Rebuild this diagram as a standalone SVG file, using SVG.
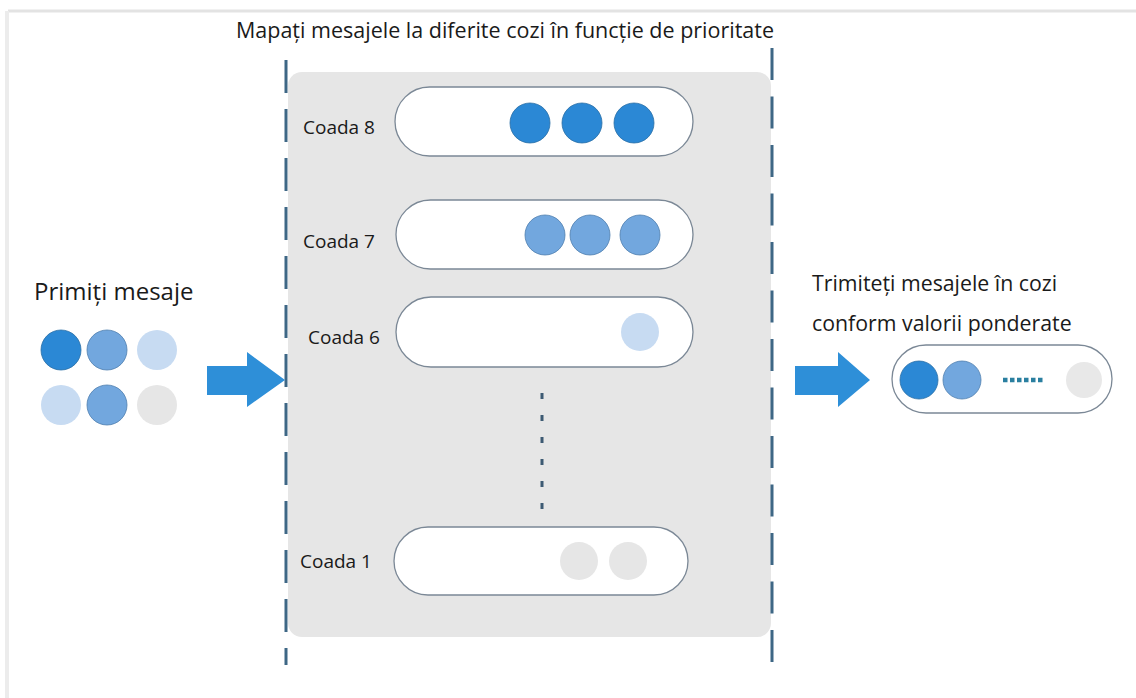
<svg xmlns="http://www.w3.org/2000/svg" width="1136" height="698" viewBox="0 0 1136 698">
<style>
text{font-family:"Open Sans","Noto Sans","Liberation Sans",sans-serif;fill:#1a1a1a}
.lbl{font-size:19px}
.big{font-size:21.3px}
.pill{fill:#ffffff;stroke:#7b8896;stroke-width:1.3}
.dark{fill:#2b88d5;stroke:#2a6fa6;stroke-width:0.8}
.mid{fill:#72a7de;stroke:#4f7fae;stroke-width:0.8}
.light{fill:#c7dbf2}
.gray{fill:#e6e6e6}
.dash{stroke:#3e6785;stroke-width:3;fill:none}
.arrow{fill:#2e8fd8}
</style>
<rect x="0" y="0" width="1136" height="698" fill="#ffffff"/>
<line x1="8" y1="11" x2="1136" y2="11" stroke="#e3e3e3" stroke-width="3"/>
<line x1="7" y1="11" x2="7" y2="698" stroke="#ececec" stroke-width="4"/>

<g id="panel">
<rect x="288" y="72" width="483" height="565" rx="14" fill="#e6e6e6"/>
</g>

<g id="title"><text x="505" y="38" text-anchor="middle" style="font-size:21.5px">Mapați mesajele la diferite cozi în funcție de prioritate</text></g>

<g id="connectors">
<line class="dash" x1="286" y1="60" x2="286" y2="665" stroke-dasharray="33 16"/>
<line class="dash" x1="772" y1="48" x2="772" y2="668" stroke-dasharray="32 16.5"/>
<path class="arrow" d="M207 366 H247 V352 L285 380 L247 407 V395 H207 Z"/>
<path class="arrow" d="M795 366 H838 V352 L870 380 L838 407 V395 H795 Z"/>
<line x1="542" y1="393" x2="542" y2="510" stroke="#3d5a73" stroke-width="3" stroke-dasharray="6 16"/>
</g>

<g id="input">
<text class="big" x="34" y="300" style="font-size:24px">Primiți mesaje</text>
<circle class="dark" cx="61" cy="350" r="20"/>
<circle class="mid" cx="107" cy="350" r="20"/>
<circle class="light" cx="157" cy="350" r="20"/>
<circle class="light" cx="61" cy="405" r="20"/>
<circle class="mid" cx="107" cy="405" r="20"/>
<circle class="gray" cx="157" cy="405" r="20"/>
</g>

<g id="queue8">
<text class="lbl" x="303" y="134">Coada 8</text>
<rect class="pill" x="395" y="87" width="298" height="69" rx="34.5"/>
<circle class="dark" cx="530" cy="123" r="20"/>
<circle class="dark" cx="582" cy="123" r="20"/>
<circle class="dark" cx="634" cy="123" r="20"/>
</g>

<g id="queue7">
<text class="lbl" x="303" y="248">Coada 7</text>
<rect class="pill" x="396" y="200" width="297" height="69" rx="34.5"/>
<circle class="mid" cx="545" cy="235" r="20"/>
<circle class="mid" cx="590" cy="235" r="20"/>
<circle class="mid" cx="640" cy="235" r="20"/>
</g>

<g id="queue6">
<text class="lbl" x="308" y="344">Coada 6</text>
<rect class="pill" x="396" y="297" width="297" height="70" rx="35"/>
<circle class="light" cx="640" cy="332" r="19"/>
</g>

<g id="queue1">
<text class="lbl" x="300" y="568">Coada 1</text>
<rect class="pill" x="394" y="527" width="294" height="68" rx="34"/>
<circle class="gray" cx="579" cy="561" r="19"/>
<circle class="gray" cx="628" cy="561" r="19"/>
</g>

<g id="output">
<text class="big" x="812" y="291">Trimiteți mesajele în cozi</text>
<text class="big" x="812" y="331">conform valorii ponderate</text>
<rect class="pill" x="892" y="345" width="220" height="68" rx="34"/>
<circle class="dark" cx="919" cy="380" r="19"/>
<circle class="mid" cx="962" cy="380" r="19"/>
<line x1="1003" y1="380" x2="1045" y2="380" stroke="#2a7fa0" stroke-width="4.5" stroke-dasharray="4.5 2.5" stroke-linecap="butt"/>
<circle cx="1084" cy="380" r="18" fill="#e8e8e8"/>
</g>
</svg>
